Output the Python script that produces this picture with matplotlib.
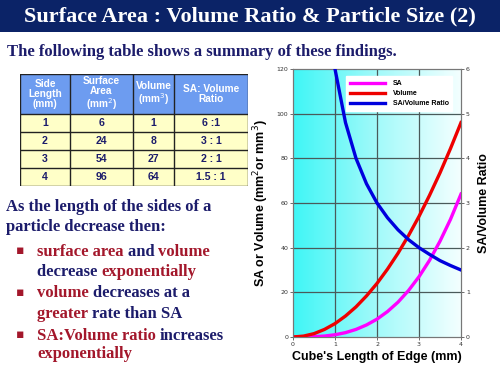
import matplotlib
matplotlib.use("Agg")
import matplotlib.pyplot as plt
import numpy as np
from matplotlib.colors import LinearSegmentedColormap
from matplotlib.patches import Rectangle

# table data
col_heads = ["Side\nLength\n(mm)", "Surface\nArea\n(mm$^2$)", "Volume\n(mm$^3$)", "SA: Volume\nRatio"]
side = ["1", "2", "3", "4"]
surface = ["6", "24", "54", "96"]
volume = ["1", "8", "27", "64"]
ratio = ["6 :1", "3 : 1", "2 : 1", "1.5 : 1"]

# curves
edge = [0, 0.25, 0.5, 0.75, 1, 1.25, 1.5, 1.75, 2, 2.25, 2.5, 2.75, 3, 3.25, 3.5, 3.75, 4]
red_curve = [0, 0.4, 1.5, 3.4, 6, 9.4, 13.5, 18.4, 24, 30.4, 37.5, 45.4, 54, 63.4, 73.5, 84.4, 96]
magenta_curve = [0, 0.02, 0.13, 0.42, 1, 1.95, 3.4, 5.4, 8, 11.4, 15.6, 20.8, 27, 34.3, 42.9, 52.7, 64]
edge_ratio = [0.97, 1, 1.25, 1.5, 1.75, 2, 2.25, 2.5, 2.75, 3, 3.25, 3.5, 3.75, 4]
blue_ratio = [6.2, 6, 4.8, 4, 3.43, 3, 2.67, 2.4, 2.18, 2, 1.85, 1.71, 1.6, 1.5]

NAVY = "#1c1c6b"
RED = "#a3172b"
W, H = 500, 375


def fx(px):
    return px / W


def fy(py):
    return 1 - py / H


fig = plt.figure(figsize=(5, 3.75), dpi=100)
fig.patch.set_facecolor("white")

# title bar
fig.patches.append(Rectangle((0, fy(32)), 1, 32 / H, transform=fig.transFigure,
                             facecolor="#0b2367", edgecolor="none"))
fig.text(0.5, fy(16), "Surface Area : Volume Ratio & Particle Size (2)", ha="center", va="center",
         color="white", fontsize=16, fontweight="bold", family="Liberation Serif")
fig.text(fx(7), fy(56), "The following table shows a summary of these findings.", ha="left",
         va="baseline", color=NAVY, fontsize=12, fontweight="bold", family="Liberation Serif")

# table
tab = fig.add_axes([fx(20), fy(186), 228 / W, 112 / H])
tab.set_xlim(0, 228)
tab.set_ylim(112, 0)
tab.axis("off")
edges = [0, 50, 113, 154, 228]
tab.add_patch(Rectangle((0, 0), 228, 40, facecolor="#6d9cf0", edgecolor="none"))
tab.add_patch(Rectangle((0, 40), 228, 72, facecolor="#ffffc8", edgecolor="none"))
for i, head in enumerate(col_heads):
    cx = (edges[i] + edges[i + 1]) / 2
    tab.text(cx, 20, head, ha="center", va="center", color="white", fontsize=7.3,
             fontweight="bold", family="Liberation Sans", linespacing=1.0)
for r, row in enumerate(zip(side, surface, volume, ratio)):
    cy = 40 + 18 * r + 9
    for i, val in enumerate(row):
        cx = (edges[i] + edges[i + 1]) / 2
        tab.text(cx, cy, val, ha="center", va="center", color=NAVY, fontsize=7.6,
                 fontweight="bold", family="Liberation Sans")
for x in edges:
    tab.plot([x, x], [0, 112], color="#222222", lw=1)
for y in [0, 40, 58, 76, 94, 112]:
    tab.plot([0, 228], [y, y], color="#222222", lw=1)

# left text block
fig.text(fx(6), fy(211), "As the length of the sides of a", color=NAVY, fontsize=12,
         fontweight="bold", family="Liberation Serif", va="baseline")
fig.text(fx(6), fy(231), "particle decrease then:", color=NAVY, fontsize=12,
         fontweight="bold", family="Liberation Serif", va="baseline")

lines = [
    (256, True, [("surface area ", RED), ("and ", NAVY), ("volume", RED)]),
    (276, False, [("decrease ", NAVY), ("exponentially", RED)]),
    (297, True, [("volume ", RED), ("decreases at a", NAVY)]),
    (318, False, [("greater ", RED), ("rate than SA", NAVY)]),
    (340, True, [("SA:Volume ratio ", RED), ("increases", NAVY)]),
    (358, False, [("exponentially", RED)]),
]
for ypx, bullet, segs in lines:
    if bullet:
        fig.text(fx(20), fy(ypx - 5), "\u25aa", color=RED, fontsize=9, ha="center",
                 va="center", family="DejaVu Sans")
    prev = None
    for s, c in segs:
        kw = dict(color=c, fontsize=12, fontweight="bold", family="Liberation Serif")
        if prev is None:
            prev = fig.text(fx(37), fy(ypx), s, va="baseline", ha="left", **kw)
        else:
            prev = plt.annotate(s, xy=(1, 0), xycoords=prev, va="bottom", ha="left",
                                annotation_clip=False, **kw)

# chart
ax = fig.add_axes([fx(293), fy(337), (461 - 293) / W, (337 - 69) / H])
cmap = LinearSegmentedColormap.from_list("cy", ["#3ff6f6", "#a2fafa", "#f4ffff"])
grad = np.linspace(0, 1, 256).reshape(1, -1)
ax.imshow(grad, extent=[0, 4, 0, 120], aspect="auto", cmap=cmap, zorder=0)
ax.set_xlim(0, 4)
ax.set_ylim(0, 120)
ax.set_xticks([0, 1, 2, 3, 4])
ax.set_yticks([0, 20, 40, 60, 80, 100, 120])
for x in [1, 2, 3]:
    ax.axvline(x, color="#4a5a5a", lw=0.9, zorder=1)
for y in [20, 40, 60, 80, 100]:
    ax.axhline(y, color="#4a5a5a", lw=0.9, zorder=1)
l1, = ax.plot(edge, magenta_curve, color="#ff00ff", lw=2.4, label="SA", zorder=3)
l2, = ax.plot(edge, red_curve, color="#ee0000", lw=2.4, label="Volume", zorder=3)
ax.tick_params(labelsize=4.5, length=2, width=0.5, colors="#333333", pad=1.5)
for sp in ax.spines.values():
    sp.set_color("#777777")
    sp.set_linewidth(0.8)
ax.set_xlabel("Cube's Length of Edge (mm)", fontsize=9, fontweight="bold",
              family="Liberation Sans", labelpad=3)
ax.set_ylabel("SA or Volume (mm$^2$or mm$^3$)", fontsize=9, fontweight="bold",
              family="Liberation Sans", labelpad=4)

ax2 = ax.twinx()
ax2.set_ylim(0, 6)
l3, = ax2.plot(edge_ratio, blue_ratio, color="#0000dd", lw=2.4, label="SA/Volume Ratio",
               zorder=3)
ax2.set_yticks([0, 1, 2, 3, 4, 5, 6])
ax2.tick_params(labelsize=4.5, length=2, width=0.5, colors="#333333", pad=1.5)
for sp in ax2.spines.values():
    sp.set_color("#777777")
    sp.set_linewidth(0.8)
ax2.set_ylabel("SA/Volume Ratio", fontsize=9, fontweight="bold", family="Liberation Sans",
               labelpad=6)
leg = ax2.legend(handles=[l1, l2, l3], loc="upper right", frameon=True,
                 fancybox=False, handlelength=5.0, borderpad=0.5, labelspacing=0.45,
                 handletextpad=1.2,
                 prop={"weight": "bold", "size": 5.0, "family": "Liberation Sans"},
                 bbox_to_anchor=(0.97, 0.985))
leg.get_frame().set_edgecolor("white")
leg.get_frame().set_facecolor("white")
leg.get_frame().set_alpha(1)

fig.savefig("out.png", dpi=100)
